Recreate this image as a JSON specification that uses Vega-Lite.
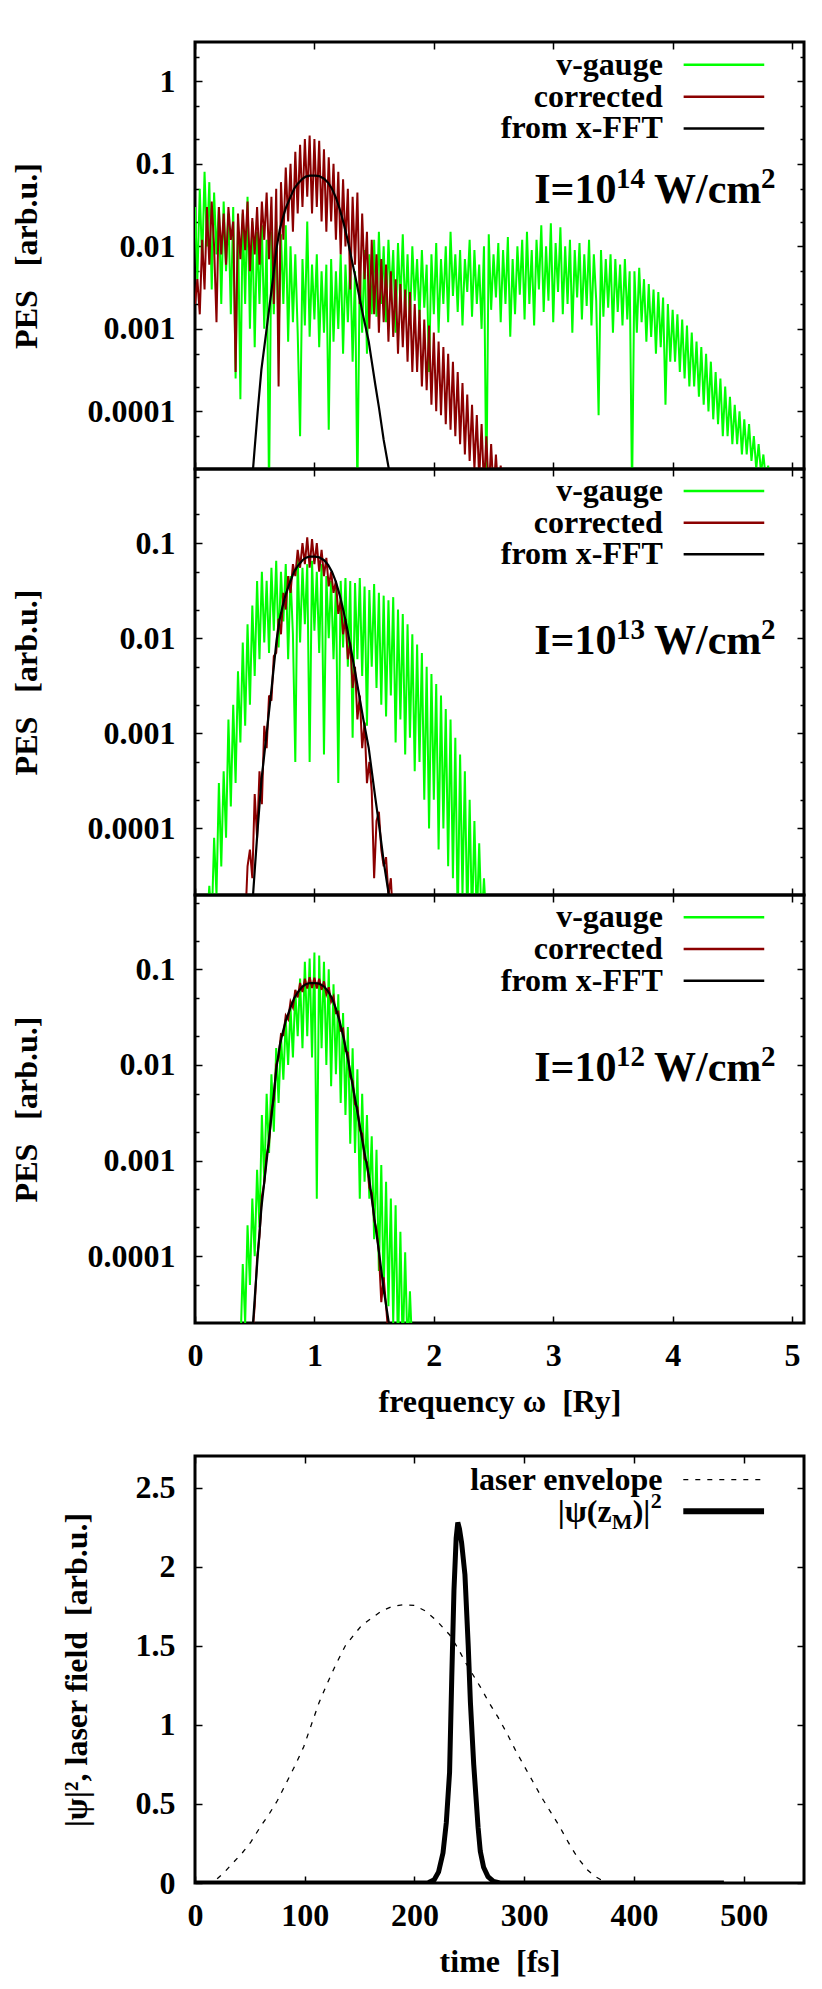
{
"$schema":"https://vega.github.io/schema/vega-lite/v6.json",
"background":"white",
"padding":{"left":8,"top":39,"right":10,"bottom":5},
"config":{
 "view":{"stroke":"black","strokeWidth":3},
 "axis":{"domain":false,"grid":false,"tickColor":"black","tickWidth":1.5,"labelFont":"Liberation Serif","labelFontWeight":"bold","labelFontSize":32,"labelColor":"black","labelFlush":false,"labelOverlap":false,"titleFont":"Liberation Serif","titleFontWeight":"bold","titleFontSize":32,"titleColor":"black"},
 "text":{"font":"Liberation Serif","fontWeight":"bold","fontSize":32,"color":"black"}
},
"datasets":{
"g1":[{"x":0,"y":0.03},{"x":0.02,"y":0.004},{"x":0.04,"y":0.05},{"x":0.06,"y":0.006},{"x":0.08,"y":0.08},{"x":0.1,"y":0.01},{"x":0.12,"y":0.06},{"x":0.14,"y":0.003},{"x":0.16,"y":0.045},{"x":0.18,"y":0.008},{"x":0.2,"y":0.03},{"x":0.22,"y":0.002},{"x":0.24,"y":0.035},{"x":0.26,"y":0.005},{"x":0.28,"y":0.025},{"x":0.3,"y":0.0015},{"x":0.32,"y":0.03},{"x":0.34,"y":0.00025},{"x":0.36,"y":0.02},{"x":0.38,"y":0.00014},{"x":0.4,"y":0.025},{"x":0.42,"y":0.002},{"x":0.44,"y":0.04},{"x":0.46,"y":0.001},{"x":0.48,"y":0.02},{"x":0.5,"y":0.0006},{"x":0.52,"y":0.015},{"x":0.54,"y":0.002},{"x":0.56,"y":0.018},{"x":0.58,"y":0.001},{"x":0.6,"y":0.012},{"x":0.62,"y":1e-5},{"x":0.64,"y":0.015},{"x":0.66,"y":0.0015},{"x":0.68,"y":0.02},{"x":0.7,"y":0.0008},{"x":0.72,"y":0.014},{"x":0.74,"y":0.002},{"x":0.76,"y":0.018},{"x":0.78,"y":0.0007},{"x":0.8,"y":0.01},{"x":0.82,"y":0.0012},{"x":0.84,"y":0.008},{"x":0.86,"y":0.0009},{"x":0.88,"y":5e-5},{"x":0.9,"y":0.007},{"x":0.92,"y":0.0011},{"x":0.94,"y":0.02},{"x":0.96,"y":0.0008},{"x":0.98,"y":0.006},{"x":1,"y":0.0013},{"x":1.02,"y":0.008},{"x":1.04,"y":0.0006},{"x":1.06,"y":0.005},{"x":1.08,"y":0.0009},{"x":1.1,"y":0.006},{"x":1.12,"y":6e-5},{"x":1.14,"y":0.007},{"x":1.16,"y":0.0007},{"x":1.18,"y":0.005},{"x":1.2,"y":0.001},{"x":1.22,"y":0.008},{"x":1.24,"y":0.0005},{"x":1.26,"y":0.006},{"x":1.28,"y":0.0012},{"x":1.3,"y":0.007},{"x":1.32,"y":0.0004},{"x":1.34,"y":0.005},{"x":1.36,"y":1e-5},{"x":1.38,"y":0.006},{"x":1.4,"y":0.0009},{"x":1.42,"y":0.009},{"x":1.44,"y":0.0005},{"x":1.46,"y":0.008},{"x":1.48,"y":0.0015},{"x":1.5,"y":0.012},{"x":1.52,"y":0.0014},{"x":1.54,"y":0.015},{"x":1.56,"y":0.002},{"x":1.58,"y":0.01},{"x":1.6,"y":0.0012},{"x":1.62,"y":0.012},{"x":1.64,"y":0.0025},{"x":1.66,"y":0.009},{"x":1.68,"y":0.0009},{"x":1.7,"y":0.011},{"x":1.72,"y":0.002},{"x":1.74,"y":0.014},{"x":1.76,"y":0.0015},{"x":1.78,"y":0.008},{"x":1.8,"y":0.0011},{"x":1.82,"y":0.01},{"x":1.84,"y":0.0022},{"x":1.86,"y":0.007},{"x":1.88,"y":0.0013},{"x":1.9,"y":0.009},{"x":1.92,"y":0.0018},{"x":1.94,"y":0.006},{"x":1.96,"y":0.0003},{"x":1.98,"y":0.008},{"x":2,"y":0.0015},{"x":2.02,"y":0.011},{"x":2.04,"y":0.0009},{"x":2.06,"y":0.007},{"x":2.08,"y":0.002},{"x":2.1,"y":0.01},{"x":2.12,"y":0.0012},{"x":2.14,"y":0.015},{"x":2.16,"y":0.0025},{"x":2.18,"y":0.008},{"x":2.2,"y":0.0016},{"x":2.22,"y":0.009},{"x":2.24,"y":0.0011},{"x":2.26,"y":0.007},{"x":2.28,"y":0.0028},{"x":2.3,"y":0.012},{"x":2.32,"y":0.0014},{"x":2.34,"y":0.009},{"x":2.36,"y":0.002},{"x":2.38,"y":0.006},{"x":2.4,"y":0.001},{"x":2.42,"y":0.01},{"x":2.44,"y":1e-5},{"x":2.46,"y":0.014},{"x":2.48,"y":0.0017},{"x":2.5,"y":0.008},{"x":2.52,"y":0.0024},{"x":2.54,"y":0.011},{"x":2.56,"y":0.0012},{"x":2.58,"y":0.009},{"x":2.6,"y":0.002},{"x":2.62,"y":0.013},{"x":2.64,"y":0.0008},{"x":2.66,"y":0.007},{"x":2.68,"y":0.0015},{"x":2.7,"y":0.01},{"x":2.72,"y":0.0026},{"x":2.74,"y":0.012},{"x":2.76,"y":0.0013},{"x":2.78,"y":0.015},{"x":2.8,"y":0.002},{"x":2.82,"y":0.009},{"x":2.84,"y":0.0011},{"x":2.86,"y":0.012},{"x":2.88,"y":0.003},{"x":2.9,"y":0.018},{"x":2.92,"y":0.0016},{"x":2.94,"y":0.01},{"x":2.96,"y":0.0022},{"x":2.98,"y":0.019},{"x":3,"y":0.0012},{"x":3.02,"y":0.011},{"x":3.04,"y":0.0028},{"x":3.06,"y":0.017},{"x":3.08,"y":0.0015},{"x":3.1,"y":0.01},{"x":3.12,"y":0.002},{"x":3.14,"y":0.012},{"x":3.16,"y":0.0009},{"x":3.18,"y":0.009},{"x":3.2,"y":0.0024},{"x":3.22,"y":0.011},{"x":3.24,"y":0.0013},{"x":3.26,"y":0.008},{"x":3.28,"y":0.0019},{"x":3.3,"y":0.012},{"x":3.32,"y":0.0011},{"x":3.34,"y":0.008},{"x":3.36,"y":0.0022},{"x":3.38,"y":9e-5},{"x":3.4,"y":0.009},{"x":3.42,"y":0.0014},{"x":3.44,"y":0.007},{"x":3.46,"y":0.0018},{"x":3.48,"y":0.008},{"x":3.5,"y":0.0009},{"x":3.52,"y":0.007},{"x":3.54,"y":0.0016},{"x":3.56,"y":0.006},{"x":3.58,"y":0.0011},{"x":3.6,"y":0.007},{"x":3.62,"y":0.0013},{"x":3.64,"y":0.005},{"x":3.66,"y":1e-5},{"x":3.68,"y":0.005},{"x":3.7,"y":0.0009},{"x":3.72,"y":0.0055},{"x":3.74,"y":0.0012},{"x":3.76,"y":0.004},{"x":3.78,"y":0.0007},{"x":3.8,"y":0.0035},{"x":3.82,"y":0.0008},{"x":3.84,"y":0.003},{"x":3.86,"y":0.0005},{"x":3.88,"y":0.0028},{"x":3.9,"y":0.0006},{"x":3.92,"y":0.0024},{"x":3.94,"y":0.00012},{"x":3.96,"y":0.002},{"x":3.98,"y":0.0004},{"x":4,"y":0.0017},{"x":4.02,"y":0.0004},{"x":4.04,"y":0.0015},{"x":4.06,"y":0.0003},{"x":4.08,"y":0.0013},{"x":4.1,"y":0.00025},{"x":4.12,"y":0.0011},{"x":4.14,"y":0.0002},{"x":4.16,"y":0.0009},{"x":4.18,"y":0.0002},{"x":4.2,"y":0.0007},{"x":4.22,"y":0.00015},{"x":4.24,"y":0.0006},{"x":4.26,"y":0.00012},{"x":4.28,"y":0.0005},{"x":4.3,"y":0.0001},{"x":4.32,"y":0.0004},{"x":4.34,"y":8e-5},{"x":4.36,"y":0.0003},{"x":4.38,"y":7e-5},{"x":4.4,"y":0.00025},{"x":4.42,"y":5e-5},{"x":4.44,"y":0.0002},{"x":4.46,"y":5e-5},{"x":4.48,"y":0.00015},{"x":4.5,"y":4e-5},{"x":4.52,"y":0.00012},{"x":4.54,"y":4e-5},{"x":4.56,"y":0.0001},{"x":4.58,"y":3e-5},{"x":4.6,"y":8e-5},{"x":4.62,"y":3e-5},{"x":4.64,"y":7e-5},{"x":4.66,"y":2.5e-5},{"x":4.68,"y":5e-5},{"x":4.7,"y":2e-5},{"x":4.72,"y":4e-5},{"x":4.74,"y":1.8e-5},{"x":4.76,"y":3e-5},{"x":4.78,"y":1.5e-5},{"x":4.8,"y":2.2e-5},{"x":4.82,"y":1e-5}],
"r1":[{"x":0,"y":0.002},{"x":0.02,"y":0.004},{"x":0.04,"y":0.0015},{"x":0.06,"y":0.012},{"x":0.08,"y":0.003},{"x":0.1,"y":0.03},{"x":0.12,"y":0.006},{"x":0.14,"y":0.035},{"x":0.16,"y":0.01},{"x":0.18,"y":0.0012},{"x":0.2,"y":0.03},{"x":0.22,"y":0.008},{"x":0.24,"y":0.025},{"x":0.26,"y":0.006},{"x":0.28,"y":0.03},{"x":0.3,"y":0.012},{"x":0.32,"y":0.02},{"x":0.34,"y":0.0003},{"x":0.36,"y":0.025},{"x":0.38,"y":0.007},{"x":0.4,"y":0.028},{"x":0.42,"y":0.009},{"x":0.44,"y":0.035},{"x":0.46,"y":0.005},{"x":0.48,"y":0.022},{"x":0.5,"y":0.008},{"x":0.52,"y":0.03},{"x":0.54,"y":0.006},{"x":0.56,"y":0.035},{"x":0.58,"y":0.012},{"x":0.6,"y":0.045},{"x":0.62,"y":0.007},{"x":0.64,"y":0.04},{"x":0.66,"y":0.002},{"x":0.68,"y":0.05},{"x":0.7,"y":0.0002},{"x":0.72,"y":0.06},{"x":0.74,"y":0.012},{"x":0.76,"y":0.09},{"x":0.78,"y":0.02},{"x":0.8,"y":0.1},{"x":0.82,"y":0.015},{"x":0.84,"y":0.14},{"x":0.86,"y":0.025},{"x":0.88,"y":0.17},{"x":0.9,"y":0.03},{"x":0.92,"y":0.2},{"x":0.94,"y":0.04},{"x":0.96,"y":0.22},{"x":0.98,"y":0.025},{"x":1,"y":0.2},{"x":1.02,"y":0.03},{"x":1.04,"y":0.19},{"x":1.06,"y":0.02},{"x":1.08,"y":0.15},{"x":1.1,"y":0.015},{"x":1.12,"y":0.12},{"x":1.14,"y":0.02},{"x":1.16,"y":0.1},{"x":1.18,"y":0.012},{"x":1.2,"y":0.08},{"x":1.22,"y":0.008},{"x":1.24,"y":0.065},{"x":1.26,"y":0.01},{"x":1.28,"y":0.05},{"x":1.3,"y":0.003},{"x":1.32,"y":0.04},{"x":1.34,"y":0.006},{"x":1.36,"y":0.045},{"x":1.38,"y":0.002},{"x":1.4,"y":0.025},{"x":1.42,"y":0.004},{"x":1.44,"y":0.015},{"x":1.46,"y":0.001},{"x":1.48,"y":0.012},{"x":1.5,"y":0.0015},{"x":1.52,"y":0.008},{"x":1.54,"y":0.0009},{"x":1.56,"y":0.007},{"x":1.58,"y":0.0012},{"x":1.6,"y":0.006},{"x":1.62,"y":0.0007},{"x":1.64,"y":0.005},{"x":1.66,"y":0.0008},{"x":1.68,"y":0.004},{"x":1.7,"y":0.0005},{"x":1.72,"y":0.0035},{"x":1.74,"y":0.0006},{"x":1.76,"y":0.003},{"x":1.78,"y":0.0004},{"x":1.8,"y":0.0028},{"x":1.82,"y":0.0003},{"x":1.84,"y":0.002},{"x":1.86,"y":0.0003},{"x":1.88,"y":0.0017},{"x":1.9,"y":0.0002},{"x":1.92,"y":0.0013},{"x":1.94,"y":0.00018},{"x":1.96,"y":0.0011},{"x":1.98,"y":0.00012},{"x":2,"y":0.0009},{"x":2.02,"y":0.0001},{"x":2.04,"y":0.0007},{"x":2.06,"y":9e-5},{"x":2.08,"y":0.0006},{"x":2.1,"y":7e-5},{"x":2.12,"y":0.0005},{"x":2.14,"y":6e-5},{"x":2.16,"y":0.0004},{"x":2.18,"y":5e-5},{"x":2.2,"y":0.0003},{"x":2.22,"y":4e-5},{"x":2.24,"y":0.00022},{"x":2.26,"y":3e-5},{"x":2.28,"y":0.00016},{"x":2.3,"y":2.5e-5},{"x":2.32,"y":0.00012},{"x":2.34,"y":2e-5},{"x":2.36,"y":9e-5},{"x":2.38,"y":1.5e-5},{"x":2.4,"y":7e-5},{"x":2.42,"y":1.2e-5},{"x":2.44,"y":5e-5},{"x":2.46,"y":1e-5},{"x":2.48,"y":4e-5},{"x":2.5,"y":1e-5},{"x":2.52,"y":3e-5},{"x":2.54,"y":1e-5},{"x":2.56,"y":2.2e-5},{"x":2.58,"y":1e-5}],
"g2":[{"x":0.1,"y":1e-5},{"x":0.12,"y":2.5e-5},{"x":0.14,"y":1e-5},{"x":0.16,"y":8e-5},{"x":0.18,"y":2e-5},{"x":0.2,"y":0.0003},{"x":0.22,"y":4e-5},{"x":0.24,"y":0.0004},{"x":0.26,"y":8e-5},{"x":0.28,"y":0.0014},{"x":0.3,"y":0.00017},{"x":0.32,"y":0.002},{"x":0.34,"y":0.0003},{"x":0.36,"y":0.0045},{"x":0.38,"y":0.0008},{"x":0.4,"y":0.009},{"x":0.42,"y":0.0012},{"x":0.44,"y":0.014},{"x":0.46,"y":0.002},{"x":0.48,"y":0.022},{"x":0.5,"y":0.004},{"x":0.52,"y":0.04},{"x":0.54,"y":0.006},{"x":0.56,"y":0.05},{"x":0.58,"y":0.009},{"x":0.6,"y":0.04},{"x":0.62,"y":0.007},{"x":0.64,"y":0.055},{"x":0.66,"y":0.012},{"x":0.68,"y":0.065},{"x":0.7,"y":0.008},{"x":0.72,"y":0.05},{"x":0.74,"y":0.015},{"x":0.76,"y":0.06},{"x":0.78,"y":0.006},{"x":0.8,"y":0.045},{"x":0.82,"y":0.011},{"x":0.84,"y":0.0005},{"x":0.86,"y":0.07},{"x":0.88,"y":0.009},{"x":0.9,"y":0.055},{"x":0.92,"y":0.014},{"x":0.94,"y":0.06},{"x":0.96,"y":0.0005},{"x":0.98,"y":0.065},{"x":1,"y":0.012},{"x":1.02,"y":0.05},{"x":1.04,"y":0.007},{"x":1.06,"y":0.06},{"x":1.08,"y":0.0006},{"x":1.1,"y":0.045},{"x":1.12,"y":0.01},{"x":1.14,"y":0.04},{"x":1.16,"y":0.006},{"x":1.18,"y":0.035},{"x":1.2,"y":0.0003},{"x":1.22,"y":0.04},{"x":1.24,"y":0.008},{"x":1.26,"y":0.043},{"x":1.28,"y":0.005},{"x":1.3,"y":0.04},{"x":1.32,"y":0.0009},{"x":1.34,"y":0.038},{"x":1.36,"y":0.006},{"x":1.38,"y":0.043},{"x":1.4,"y":0.004},{"x":1.42,"y":0.035},{"x":1.44,"y":0.0012},{"x":1.46,"y":0.032},{"x":1.48,"y":0.005},{"x":1.5,"y":0.037},{"x":1.52,"y":0.003},{"x":1.54,"y":0.03},{"x":1.56,"y":0.002},{"x":1.58,"y":0.028},{"x":1.6,"y":0.0015},{"x":1.62,"y":0.025},{"x":1.64,"y":0.0025},{"x":1.66,"y":0.027},{"x":1.68,"y":0.0008},{"x":1.7,"y":0.02},{"x":1.72,"y":0.0014},{"x":1.74,"y":0.018},{"x":1.76,"y":0.0006},{"x":1.78,"y":0.014},{"x":1.8,"y":0.0009},{"x":1.82,"y":0.011},{"x":1.84,"y":0.0004},{"x":1.86,"y":0.0086},{"x":1.88,"y":0.0005},{"x":1.9,"y":0.007},{"x":1.92,"y":0.0002},{"x":1.94,"y":0.005},{"x":1.96,"y":0.0001},{"x":1.98,"y":0.0042},{"x":2,"y":0.0002},{"x":2.02,"y":0.0033},{"x":2.04,"y":6e-5},{"x":2.06,"y":0.0025},{"x":2.08,"y":0.0001},{"x":2.1,"y":0.0018},{"x":2.12,"y":4e-5},{"x":2.14,"y":0.0014},{"x":2.16,"y":3e-5},{"x":2.18,"y":0.0009},{"x":2.2,"y":1e-5},{"x":2.22,"y":0.0006},{"x":2.24,"y":2e-5},{"x":2.26,"y":0.0004},{"x":2.28,"y":1e-5},{"x":2.3,"y":0.0002},{"x":2.32,"y":1e-5},{"x":2.34,"y":0.00012},{"x":2.36,"y":1e-5},{"x":2.38,"y":7e-5},{"x":2.4,"y":1e-5},{"x":2.42,"y":3e-5},{"x":2.44,"y":1e-5}],
"r2":[{"x":0.42,"y":1e-5},{"x":0.44,"y":4e-5},{"x":0.46,"y":6e-5},{"x":0.48,"y":3e-5},{"x":0.5,"y":0.00023},{"x":0.52,"y":8e-5},{"x":0.54,"y":0.0004},{"x":0.56,"y":0.00018},{"x":0.58,"y":0.0012},{"x":0.6,"y":0.0007},{"x":0.62,"y":0.0025},{"x":0.64,"y":0.0022},{"x":0.66,"y":0.0065},{"x":0.68,"y":0.007},{"x":0.7,"y":0.016},{"x":0.72,"y":0.011},{"x":0.74,"y":0.03},{"x":0.76,"y":0.02},{"x":0.78,"y":0.045},{"x":0.8,"y":0.03},{"x":0.82,"y":0.06},{"x":0.84,"y":0.045},{"x":0.86,"y":0.085},{"x":0.88,"y":0.055},{"x":0.9,"y":0.1},{"x":0.92,"y":0.06},{"x":0.94,"y":0.115},{"x":0.96,"y":0.055},{"x":0.98,"y":0.11},{"x":1,"y":0.06},{"x":1.02,"y":0.1},{"x":1.04,"y":0.05},{"x":1.06,"y":0.085},{"x":1.08,"y":0.045},{"x":1.1,"y":0.07},{"x":1.12,"y":0.035},{"x":1.14,"y":0.05},{"x":1.16,"y":0.03},{"x":1.18,"y":0.04},{"x":1.2,"y":0.018},{"x":1.22,"y":0.025},{"x":1.24,"y":0.011},{"x":1.26,"y":0.016},{"x":1.28,"y":0.006},{"x":1.3,"y":0.009},{"x":1.32,"y":0.003},{"x":1.34,"y":0.005},{"x":1.36,"y":0.0014},{"x":1.38,"y":0.0025},{"x":1.4,"y":0.0007},{"x":1.42,"y":0.0013},{"x":1.44,"y":0.0003},{"x":1.46,"y":0.0005},{"x":1.48,"y":0.00025},{"x":1.5,"y":3e-5},{"x":1.52,"y":0.00012},{"x":1.54,"y":0.00015},{"x":1.56,"y":6e-5},{"x":1.58,"y":4e-5},{"x":1.6,"y":5e-5},{"x":1.62,"y":2e-5},{"x":1.64,"y":3e-5},{"x":1.66,"y":1e-5}],
"g3":[{"x":0.38,"y":1e-5},{"x":0.4,"y":8.3e-5},{"x":0.42,"y":2e-5},{"x":0.44,"y":0.00021},{"x":0.46,"y":5e-5},{"x":0.48,"y":0.0004},{"x":0.5,"y":0.0001},{"x":0.52,"y":0.0008},{"x":0.54,"y":0.0002},{"x":0.56,"y":0.003},{"x":0.58,"y":0.0006},{"x":0.6,"y":0.005},{"x":0.62,"y":0.0012},{"x":0.64,"y":0.008},{"x":0.66,"y":0.002},{"x":0.68,"y":0.015},{"x":0.7,"y":0.004},{"x":0.72,"y":0.02},{"x":0.74,"y":0.007},{"x":0.76,"y":0.03},{"x":0.78,"y":0.01},{"x":0.8,"y":0.04},{"x":0.82,"y":0.012},{"x":0.84,"y":0.06},{"x":0.86,"y":0.02},{"x":0.88,"y":0.08},{"x":0.9,"y":0.015},{"x":0.92,"y":0.12},{"x":0.94,"y":0.02},{"x":0.96,"y":0.13},{"x":0.98,"y":0.012},{"x":1,"y":0.15},{"x":1.02,"y":0.0004},{"x":1.04,"y":0.14},{"x":1.06,"y":0.015},{"x":1.08,"y":0.12},{"x":1.1,"y":0.01},{"x":1.12,"y":0.1},{"x":1.14,"y":0.006},{"x":1.16,"y":0.07},{"x":1.18,"y":0.008},{"x":1.2,"y":0.055},{"x":1.22,"y":0.004},{"x":1.24,"y":0.035},{"x":1.26,"y":0.003},{"x":1.28,"y":0.025},{"x":1.3,"y":0.0015},{"x":1.32,"y":0.015},{"x":1.34,"y":0.0012},{"x":1.36,"y":0.009},{"x":1.38,"y":0.0004},{"x":1.4,"y":0.005},{"x":1.42,"y":0.0006},{"x":1.44,"y":0.003},{"x":1.46,"y":0.0004},{"x":1.48,"y":0.0018},{"x":1.5,"y":0.00015},{"x":1.52,"y":0.0013},{"x":1.54,"y":7e-5},{"x":1.56,"y":0.0009},{"x":1.58,"y":4e-5},{"x":1.6,"y":0.0006},{"x":1.62,"y":3e-5},{"x":1.64,"y":0.0004},{"x":1.66,"y":2e-5},{"x":1.68,"y":0.00034},{"x":1.7,"y":1e-5},{"x":1.72,"y":0.00018},{"x":1.74,"y":1e-5},{"x":1.76,"y":0.00011},{"x":1.78,"y":1e-5},{"x":1.8,"y":4.3e-5},{"x":1.82,"y":1e-5}],
"r3":[{"x":0.46,"y":1e-5},{"x":0.48,"y":1.5e-5},{"x":0.5,"y":3e-5},{"x":0.52,"y":9.5e-5},{"x":0.54,"y":0.00016},{"x":0.56,"y":0.00042},{"x":0.58,"y":0.00058},{"x":0.6,"y":0.00115},{"x":0.62,"y":0.0015},{"x":0.64,"y":0.0033},{"x":0.66,"y":0.0044},{"x":0.68,"y":0.0101},{"x":0.7,"y":0.0119},{"x":0.72,"y":0.021},{"x":0.74,"y":0.0205},{"x":0.76,"y":0.033},{"x":0.78,"y":0.03},{"x":0.8,"y":0.046},{"x":0.82,"y":0.04},{"x":0.84,"y":0.061},{"x":0.86,"y":0.051},{"x":0.88,"y":0.072},{"x":0.9,"y":0.058},{"x":0.92,"y":0.08},{"x":0.94,"y":0.063},{"x":0.96,"y":0.083},{"x":0.98,"y":0.064},{"x":1,"y":0.082},{"x":1.02,"y":0.063},{"x":1.04,"y":0.08},{"x":1.06,"y":0.061},{"x":1.08,"y":0.075},{"x":1.1,"y":0.055},{"x":1.12,"y":0.065},{"x":1.14,"y":0.046},{"x":1.16,"y":0.052},{"x":1.18,"y":0.035},{"x":1.2,"y":0.036},{"x":1.22,"y":0.023},{"x":1.24,"y":0.024},{"x":1.26,"y":0.014},{"x":1.28,"y":0.0135},{"x":1.3,"y":0.0075},{"x":1.32,"y":0.0068},{"x":1.34,"y":0.0039},{"x":1.36,"y":0.0036},{"x":1.38,"y":0.0021},{"x":1.4,"y":0.0019},{"x":1.42,"y":0.00105},{"x":1.44,"y":0.00096},{"x":1.46,"y":0.00052},{"x":1.48,"y":0.00046},{"x":1.5,"y":0.00024},{"x":1.52,"y":0.00019},{"x":1.54,"y":0.00011},{"x":1.56,"y":3.3e-5},{"x":1.58,"y":6e-5},{"x":1.6,"y":3e-5},{"x":1.62,"y":1.5e-5},{"x":1.64,"y":1e-5}],
"bk":[{"x":0.47,"y":8e-6},{"x":0.486,"y":2e-5},{"x":0.5,"y":3.6e-5},{"x":0.525,"y":0.0001},{"x":0.556,"y":0.00032},{"x":0.6,"y":0.001},{"x":0.644,"y":0.0032},{"x":0.683,"y":0.0095},{"x":0.71,"y":0.016},{"x":0.731,"y":0.021},{"x":0.76,"y":0.029},{"x":0.797,"y":0.039},{"x":0.83,"y":0.05},{"x":0.863,"y":0.058},{"x":0.9,"y":0.066},{"x":0.928,"y":0.07},{"x":0.96,"y":0.072},{"x":1.003,"y":0.072},{"x":1.04,"y":0.071},{"x":1.081,"y":0.066},{"x":1.115,"y":0.059},{"x":1.147,"y":0.05},{"x":1.18,"y":0.039},{"x":1.213,"y":0.028},{"x":1.245,"y":0.019},{"x":1.278,"y":0.012},{"x":1.31,"y":0.0072},{"x":1.344,"y":0.0042},{"x":1.38,"y":0.0023},{"x":1.41,"y":0.0014},{"x":1.432,"y":0.001},{"x":1.455,"y":0.0007},{"x":1.475,"y":0.00045},{"x":1.51,"y":0.00021},{"x":1.541,"y":0.00011},{"x":1.58,"y":4.5e-5},{"x":1.629,"y":1.8e-5},{"x":1.65,"y":1e-5}],
"env":[{"x":10,"y":0},{"x":15,"y":0.01},{"x":20,"y":0.025},{"x":27,"y":0.07},{"x":35,"y":0.13},{"x":43,"y":0.19},{"x":51,"y":0.26},{"x":60,"y":0.36},{"x":67,"y":0.43},{"x":75,"y":0.52},{"x":83,"y":0.63},{"x":91,"y":0.74},{"x":99,"y":0.86},{"x":106,"y":1.0},{"x":113,"y":1.14},{"x":121,"y":1.27},{"x":129,"y":1.39},{"x":137,"y":1.5},{"x":145,"y":1.57},{"x":152,"y":1.63},{"x":160,"y":1.67},{"x":170,"y":1.72},{"x":180,"y":1.75},{"x":190,"y":1.76},{"x":200,"y":1.755},{"x":210,"y":1.72},{"x":220,"y":1.66},{"x":232,"y":1.57},{"x":240,"y":1.48},{"x":246,"y":1.4},{"x":253,"y":1.32},{"x":260,"y":1.24},{"x":268,"y":1.14},{"x":276,"y":1.05},{"x":284,"y":0.95},{"x":292,"y":0.84},{"x":300,"y":0.74},{"x":308,"y":0.64},{"x":316,"y":0.54},{"x":324,"y":0.45},{"x":332,"y":0.36},{"x":340,"y":0.26},{"x":346,"y":0.19},{"x":351,"y":0.14},{"x":358,"y":0.08},{"x":365,"y":0.04},{"x":370,"y":0.02}],
"psi":[{"x":0,"y":0},{"x":100,"y":0},{"x":200,"y":0},{"x":212,"y":0},{"x":218,"y":0.02},{"x":222,"y":0.07},{"x":226,"y":0.19},{"x":229,"y":0.38},{"x":232,"y":0.7},{"x":234,"y":1.3},{"x":236,"y":1.85},{"x":238,"y":2.18},{"x":239.5,"y":2.28},{"x":241,"y":2.24},{"x":243,"y":2.15},{"x":246,"y":1.95},{"x":249,"y":1.5},{"x":251,"y":1.14},{"x":254,"y":0.75},{"x":256,"y":0.55},{"x":258,"y":0.35},{"x":260,"y":0.2},{"x":263,"y":0.1},{"x":267,"y":0.04},{"x":272,"y":0.01},{"x":278,"y":0},{"x":300,"y":0},{"x":400,"y":0},{"x":482,"y":0}]
},
"vconcat":[
{"width":609,"height":427,
 "resolve":{"axis":{"x":"independent","y":"independent"}},
 "layer":[
  {"data":{"name":"g1"},"mark":{"type":"line","color":"#00ff00","strokeWidth":2,"clip":true},
   "encoding":{"x":{"field":"x","type":"quantitative","scale":{"domain":[0,5.1],"nice":false,"zero":false},"axis":{"orient":"bottom","values":[0,1,2,3,4,5],"labels":false,"title":null,"tickSize":-7}},
    "y":{"field":"y","type":"quantitative","scale":{"type":"log","domain":[2e-5,3],"nice":false},"axis":{"orient":"left","values":[1,0.1,0.01,0.001,0.0001],"format":"~g","tickSize":-7,"labelPadding":27,"title":"PES\u00a0\u00a0 [arb.u.]","titlePadding":44}}}},
  {"data":{"name":"r1"},"mark":{"type":"line","color":"#8b0000","strokeWidth":2,"clip":true},
   "encoding":{"x":{"field":"x","type":"quantitative","scale":{"domain":[0,5.1],"nice":false,"zero":false},"axis":{"orient":"top","values":[0,1,2,3,4,5],"labels":false,"title":null,"tickSize":-7}},
    "y":{"field":"y","type":"quantitative","scale":{"type":"log","domain":[2e-5,3],"nice":false},"axis":{"orient":"right","values":[1,0.1,0.01,0.001,0.0001],"labels":false,"title":null,"tickSize":-7}}}},
  {"data":{"name":"bk"},"mark":{"type":"line","color":"black","strokeWidth":2.2,"clip":true},
   "encoding":{"x":{"field":"x","type":"quantitative","scale":{"domain":[0,5.1],"nice":false,"zero":false},"axis":null},
    "y":{"field":"y","type":"quantitative","scale":{"type":"log","domain":[2e-5,3],"nice":false},"axis":{"orient":"left","values":[2,0.5,0.2,0.05,0.02,0.005,0.002,0.0005,0.0002,0.00005],"labels":false,"title":null,"tickSize":-4}}}},
  {"data":{"values":[{"s":"v-gauge"}]},"mark":{"type":"rule","color":"#00ff00","strokeWidth":2.5},
   "encoding":{"x":{"datum":4.092,"type":"quantitative","scale":{"domain":[0,5.1],"nice":false,"zero":false},"axis":null},"x2":{"datum":4.767},
    "y":{"datum":1.595,"type":"quantitative","scale":{"type":"log","domain":[2e-5,3],"nice":false},"axis":{"orient":"right","values":[2,0.5,0.2,0.05,0.02,0.005,0.002,0.0005,0.0002,0.00005],"labels":false,"title":null,"tickSize":-4}}}},
  {"data":{"values":[{"s":"corrected"}]},"mark":{"type":"rule","color":"#8b0000","strokeWidth":2.5},
   "encoding":{"x":{"datum":4.092,"type":"quantitative","scale":{"domain":[0,5.1],"nice":false,"zero":false},"axis":null},"x2":{"datum":4.767},
    "y":{"datum":0.6524,"type":"quantitative","scale":{"type":"log","domain":[2e-5,3],"nice":false},"axis":null}}},
  {"data":{"values":[{"s":"from x-FFT"}]},"mark":{"type":"rule","color":"black","strokeWidth":2.5},
   "encoding":{"x":{"datum":4.092,"type":"quantitative","scale":{"domain":[0,5.1],"nice":false,"zero":false},"axis":null},"x2":{"datum":4.767},
    "y":{"datum":0.269,"type":"quantitative","scale":{"type":"log","domain":[2e-5,3],"nice":false},"axis":null}}},
  {"data":{"values":[{"s":"v-gauge"}]},"mark":{"type":"text","align":"right","baseline":"middle"},
   "encoding":{"text":{"field":"s"},"x":{"datum":3.918,"type":"quantitative","scale":{"domain":[0,5.1],"nice":false,"zero":false},"axis":null},
    "y":{"datum":1.595,"type":"quantitative","scale":{"type":"log","domain":[2e-5,3],"nice":false},"axis":null}}},
  {"data":{"values":[{"s":"corrected"}]},"mark":{"type":"text","align":"right","baseline":"middle"},
   "encoding":{"text":{"field":"s"},"x":{"datum":3.918,"type":"quantitative","scale":{"domain":[0,5.1],"nice":false,"zero":false},"axis":null},
    "y":{"datum":0.6524,"type":"quantitative","scale":{"type":"log","domain":[2e-5,3],"nice":false},"axis":null}}},
  {"data":{"values":[{"s":"from x-FFT"}]},"mark":{"type":"text","align":"right","baseline":"middle"},
   "encoding":{"text":{"field":"s"},"x":{"datum":3.918,"type":"quantitative","scale":{"domain":[0,5.1],"nice":false,"zero":false},"axis":null},
    "y":{"datum":0.269,"type":"quantitative","scale":{"type":"log","domain":[2e-5,3],"nice":false},"axis":null}}},
  {"data":{"values":[{"s":"I=10"}]},"mark":{"type":"text","align":"left","baseline":"alphabetic","fontSize":42},
   "encoding":{"text":{"field":"s"},"x":{"datum":2.84,"type":"quantitative","scale":{"domain":[0,5.1],"nice":false,"zero":false},"axis":null},
    "y":{"datum":0.0331,"type":"quantitative","scale":{"type":"log","domain":[2e-5,3],"nice":false},"axis":null}}},
  {"data":{"values":[{"s":"14"}]},"mark":{"type":"text","align":"left","baseline":"alphabetic","fontSize":29,"dy":-15},
   "encoding":{"text":{"field":"s"},"x":{"datum":3.526,"type":"quantitative","scale":{"domain":[0,5.1],"nice":false,"zero":false},"axis":null},
    "y":{"datum":0.0331,"type":"quantitative","scale":{"type":"log","domain":[2e-5,3],"nice":false},"axis":null}}},
  {"data":{"values":[{"s":"W/cm"}]},"mark":{"type":"text","align":"left","baseline":"alphabetic","fontSize":42},
   "encoding":{"text":{"field":"s"},"x":{"datum":3.844,"type":"quantitative","scale":{"domain":[0,5.1],"nice":false,"zero":false},"axis":null},
    "y":{"datum":0.0331,"type":"quantitative","scale":{"type":"log","domain":[2e-5,3],"nice":false},"axis":null}}},
  {"data":{"values":[{"s":"2"}]},"mark":{"type":"text","align":"left","baseline":"alphabetic","fontSize":29,"dy":-15},
   "encoding":{"text":{"field":"s"},"x":{"datum":4.74,"type":"quantitative","scale":{"domain":[0,5.1],"nice":false,"zero":false},"axis":null},
    "y":{"datum":0.0331,"type":"quantitative","scale":{"type":"log","domain":[2e-5,3],"nice":false},"axis":null}}}
 ]},
{"width":609,"height":426,
 "resolve":{"axis":{"x":"independent","y":"independent"}},
 "layer":[
  {"data":{"name":"g2"},"mark":{"type":"line","color":"#00ff00","strokeWidth":2,"clip":true},
   "encoding":{"x":{"field":"x","type":"quantitative","scale":{"domain":[0,5.1],"nice":false,"zero":false},"axis":{"orient":"bottom","values":[0,1,2,3,4,5],"labels":false,"title":null,"tickSize":-7}},
    "y":{"field":"y","type":"quantitative","scale":{"type":"log","domain":[2e-5,0.6],"nice":false},"axis":{"orient":"left","values":[0.1,0.01,0.001,0.0001],"format":"~g","tickSize":-7,"labelPadding":27,"title":"PES\u00a0\u00a0 [arb.u.]","titlePadding":44}}}},
  {"data":{"name":"r2"},"mark":{"type":"line","color":"#8b0000","strokeWidth":2,"clip":true},
   "encoding":{"x":{"field":"x","type":"quantitative","scale":{"domain":[0,5.1],"nice":false,"zero":false},"axis":{"orient":"top","values":[0,1,2,3,4,5],"labels":false,"title":null,"tickSize":-7}},
    "y":{"field":"y","type":"quantitative","scale":{"type":"log","domain":[2e-5,0.6],"nice":false},"axis":{"orient":"right","values":[0.1,0.01,0.001,0.0001],"labels":false,"title":null,"tickSize":-7}}}},
  {"data":{"name":"bk"},"mark":{"type":"line","color":"black","strokeWidth":2.2,"clip":true},
   "encoding":{"x":{"field":"x","type":"quantitative","scale":{"domain":[0,5.1],"nice":false,"zero":false},"axis":null},
    "y":{"field":"y","type":"quantitative","scale":{"type":"log","domain":[2e-5,0.6],"nice":false},"axis":{"orient":"left","values":[0.5,0.2,0.05,0.02,0.005,0.002,0.0005,0.0002,0.00005],"labels":false,"title":null,"tickSize":-4}}}},
  {"data":{"values":[{"s":"v-gauge"}]},"mark":{"type":"rule","color":"#00ff00","strokeWidth":2.5},
   "encoding":{"x":{"datum":4.092,"type":"quantitative","scale":{"domain":[0,5.1],"nice":false,"zero":false},"axis":null},"x2":{"datum":4.767},
    "y":{"datum":0.352,"type":"quantitative","scale":{"type":"log","domain":[2e-5,0.6],"nice":false},"axis":{"orient":"right","values":[0.5,0.2,0.05,0.02,0.005,0.002,0.0005,0.0002,0.00005],"labels":false,"title":null,"tickSize":-4}}}},
  {"data":{"values":[{"s":"corrected"}]},"mark":{"type":"rule","color":"#8b0000","strokeWidth":2.5},
   "encoding":{"x":{"datum":4.092,"type":"quantitative","scale":{"domain":[0,5.1],"nice":false,"zero":false},"axis":null},"x2":{"datum":4.767},
    "y":{"datum":0.1636,"type":"quantitative","scale":{"type":"log","domain":[2e-5,0.6],"nice":false},"axis":null}}},
  {"data":{"values":[{"s":"from x-FFT"}]},"mark":{"type":"rule","color":"black","strokeWidth":2.5},
   "encoding":{"x":{"datum":4.092,"type":"quantitative","scale":{"domain":[0,5.1],"nice":false,"zero":false},"axis":null},"x2":{"datum":4.767},
    "y":{"datum":0.0762,"type":"quantitative","scale":{"type":"log","domain":[2e-5,0.6],"nice":false},"axis":null}}},
  {"data":{"values":[{"s":"v-gauge"}]},"mark":{"type":"text","align":"right","baseline":"middle"},
   "encoding":{"text":{"field":"s"},"x":{"datum":3.918,"type":"quantitative","scale":{"domain":[0,5.1],"nice":false,"zero":false},"axis":null},
    "y":{"datum":0.352,"type":"quantitative","scale":{"type":"log","domain":[2e-5,0.6],"nice":false},"axis":null}}},
  {"data":{"values":[{"s":"corrected"}]},"mark":{"type":"text","align":"right","baseline":"middle"},
   "encoding":{"text":{"field":"s"},"x":{"datum":3.918,"type":"quantitative","scale":{"domain":[0,5.1],"nice":false,"zero":false},"axis":null},
    "y":{"datum":0.1636,"type":"quantitative","scale":{"type":"log","domain":[2e-5,0.6],"nice":false},"axis":null}}},
  {"data":{"values":[{"s":"from x-FFT"}]},"mark":{"type":"text","align":"right","baseline":"middle"},
   "encoding":{"text":{"field":"s"},"x":{"datum":3.918,"type":"quantitative","scale":{"domain":[0,5.1],"nice":false,"zero":false},"axis":null},
    "y":{"datum":0.0762,"type":"quantitative","scale":{"type":"log","domain":[2e-5,0.6],"nice":false},"axis":null}}},
  {"data":{"values":[{"s":"I=10"}]},"mark":{"type":"text","align":"left","baseline":"alphabetic","fontSize":42},
   "encoding":{"text":{"field":"s"},"x":{"datum":2.84,"type":"quantitative","scale":{"domain":[0,5.1],"nice":false,"zero":false},"axis":null},
    "y":{"datum":0.00682,"type":"quantitative","scale":{"type":"log","domain":[2e-5,0.6],"nice":false},"axis":null}}},
  {"data":{"values":[{"s":"13"}]},"mark":{"type":"text","align":"left","baseline":"alphabetic","fontSize":29,"dy":-15},
   "encoding":{"text":{"field":"s"},"x":{"datum":3.526,"type":"quantitative","scale":{"domain":[0,5.1],"nice":false,"zero":false},"axis":null},
    "y":{"datum":0.00682,"type":"quantitative","scale":{"type":"log","domain":[2e-5,0.6],"nice":false},"axis":null}}},
  {"data":{"values":[{"s":"W/cm"}]},"mark":{"type":"text","align":"left","baseline":"alphabetic","fontSize":42},
   "encoding":{"text":{"field":"s"},"x":{"datum":3.844,"type":"quantitative","scale":{"domain":[0,5.1],"nice":false,"zero":false},"axis":null},
    "y":{"datum":0.00682,"type":"quantitative","scale":{"type":"log","domain":[2e-5,0.6],"nice":false},"axis":null}}},
  {"data":{"values":[{"s":"2"}]},"mark":{"type":"text","align":"left","baseline":"alphabetic","fontSize":29,"dy":-15},
   "encoding":{"text":{"field":"s"},"x":{"datum":4.74,"type":"quantitative","scale":{"domain":[0,5.1],"nice":false,"zero":false},"axis":null},
    "y":{"datum":0.00682,"type":"quantitative","scale":{"type":"log","domain":[2e-5,0.6],"nice":false},"axis":null}}}
 ]},
{"width":609,"height":428,
 "resolve":{"axis":{"x":"independent","y":"independent"}},
 "layer":[
  {"data":{"name":"g3"},"mark":{"type":"line","color":"#00ff00","strokeWidth":2,"clip":true},
   "encoding":{"x":{"field":"x","type":"quantitative","scale":{"domain":[0,5.1],"nice":false,"zero":false},"axis":{"orient":"bottom","values":[0,1,2,3,4,5],"tickSize":-7,"labelPadding":24,"title":"frequency \u03c9\u00a0\u00a0[Ry]","titlePadding":15}},
    "y":{"field":"y","type":"quantitative","scale":{"type":"log","domain":[2e-5,0.6],"nice":false},"axis":{"orient":"left","values":[0.1,0.01,0.001,0.0001],"format":"~g","tickSize":-7,"labelPadding":27,"title":"PES\u00a0\u00a0 [arb.u.]","titlePadding":44}}}},
  {"data":{"name":"r3"},"mark":{"type":"line","color":"#8b0000","strokeWidth":2,"clip":true},
   "encoding":{"x":{"field":"x","type":"quantitative","scale":{"domain":[0,5.1],"nice":false,"zero":false},"axis":{"orient":"top","values":[0,1,2,3,4,5],"labels":false,"title":null,"tickSize":-7}},
    "y":{"field":"y","type":"quantitative","scale":{"type":"log","domain":[2e-5,0.6],"nice":false},"axis":{"orient":"right","values":[0.1,0.01,0.001,0.0001],"labels":false,"title":null,"tickSize":-7}}}},
  {"data":{"name":"bk"},"mark":{"type":"line","color":"black","strokeWidth":2.2,"clip":true},
   "encoding":{"x":{"field":"x","type":"quantitative","scale":{"domain":[0,5.1],"nice":false,"zero":false},"axis":null},
    "y":{"field":"y","type":"quantitative","scale":{"type":"log","domain":[2e-5,0.6],"nice":false},"axis":{"orient":"left","values":[0.5,0.2,0.05,0.02,0.005,0.002,0.0005,0.0002,0.00005],"labels":false,"title":null,"tickSize":-4}}}},
  {"data":{"values":[{"s":"v-gauge"}]},"mark":{"type":"rule","color":"#00ff00","strokeWidth":2.5},
   "encoding":{"x":{"datum":4.092,"type":"quantitative","scale":{"domain":[0,5.1],"nice":false,"zero":false},"axis":null},"x2":{"datum":4.767},
    "y":{"datum":0.352,"type":"quantitative","scale":{"type":"log","domain":[2e-5,0.6],"nice":false},"axis":{"orient":"right","values":[0.5,0.2,0.05,0.02,0.005,0.002,0.0005,0.0002,0.00005],"labels":false,"title":null,"tickSize":-4}}}},
  {"data":{"values":[{"s":"corrected"}]},"mark":{"type":"rule","color":"#8b0000","strokeWidth":2.5},
   "encoding":{"x":{"datum":4.092,"type":"quantitative","scale":{"domain":[0,5.1],"nice":false,"zero":false},"axis":null},"x2":{"datum":4.767},
    "y":{"datum":0.1636,"type":"quantitative","scale":{"type":"log","domain":[2e-5,0.6],"nice":false},"axis":null}}},
  {"data":{"values":[{"s":"from x-FFT"}]},"mark":{"type":"rule","color":"black","strokeWidth":2.5},
   "encoding":{"x":{"datum":4.092,"type":"quantitative","scale":{"domain":[0,5.1],"nice":false,"zero":false},"axis":null},"x2":{"datum":4.767},
    "y":{"datum":0.0762,"type":"quantitative","scale":{"type":"log","domain":[2e-5,0.6],"nice":false},"axis":null}}},
  {"data":{"values":[{"s":"v-gauge"}]},"mark":{"type":"text","align":"right","baseline":"middle"},
   "encoding":{"text":{"field":"s"},"x":{"datum":3.918,"type":"quantitative","scale":{"domain":[0,5.1],"nice":false,"zero":false},"axis":null},
    "y":{"datum":0.352,"type":"quantitative","scale":{"type":"log","domain":[2e-5,0.6],"nice":false},"axis":null}}},
  {"data":{"values":[{"s":"corrected"}]},"mark":{"type":"text","align":"right","baseline":"middle"},
   "encoding":{"text":{"field":"s"},"x":{"datum":3.918,"type":"quantitative","scale":{"domain":[0,5.1],"nice":false,"zero":false},"axis":null},
    "y":{"datum":0.1636,"type":"quantitative","scale":{"type":"log","domain":[2e-5,0.6],"nice":false},"axis":null}}},
  {"data":{"values":[{"s":"from x-FFT"}]},"mark":{"type":"text","align":"right","baseline":"middle"},
   "encoding":{"text":{"field":"s"},"x":{"datum":3.918,"type":"quantitative","scale":{"domain":[0,5.1],"nice":false,"zero":false},"axis":null},
    "y":{"datum":0.0762,"type":"quantitative","scale":{"type":"log","domain":[2e-5,0.6],"nice":false},"axis":null}}},
  {"data":{"values":[{"s":"I=10"}]},"mark":{"type":"text","align":"left","baseline":"alphabetic","fontSize":42},
   "encoding":{"text":{"field":"s"},"x":{"datum":2.84,"type":"quantitative","scale":{"domain":[0,5.1],"nice":false,"zero":false},"axis":null},
    "y":{"datum":0.00682,"type":"quantitative","scale":{"type":"log","domain":[2e-5,0.6],"nice":false},"axis":null}}},
  {"data":{"values":[{"s":"12"}]},"mark":{"type":"text","align":"left","baseline":"alphabetic","fontSize":29,"dy":-15},
   "encoding":{"text":{"field":"s"},"x":{"datum":3.526,"type":"quantitative","scale":{"domain":[0,5.1],"nice":false,"zero":false},"axis":null},
    "y":{"datum":0.00682,"type":"quantitative","scale":{"type":"log","domain":[2e-5,0.6],"nice":false},"axis":null}}},
  {"data":{"values":[{"s":"W/cm"}]},"mark":{"type":"text","align":"left","baseline":"alphabetic","fontSize":42},
   "encoding":{"text":{"field":"s"},"x":{"datum":3.844,"type":"quantitative","scale":{"domain":[0,5.1],"nice":false,"zero":false},"axis":null},
    "y":{"datum":0.00682,"type":"quantitative","scale":{"type":"log","domain":[2e-5,0.6],"nice":false},"axis":null}}},
  {"data":{"values":[{"s":"2"}]},"mark":{"type":"text","align":"left","baseline":"alphabetic","fontSize":29,"dy":-15},
   "encoding":{"text":{"field":"s"},"x":{"datum":4.74,"type":"quantitative","scale":{"domain":[0,5.1],"nice":false,"zero":false},"axis":null},
    "y":{"datum":0.00682,"type":"quantitative","scale":{"type":"log","domain":[2e-5,0.6],"nice":false},"axis":null}}}
 ]},
{"width":609,"height":133,"view":{"stroke":null},"data":{"values":[]},"mark":{"type":"text"}},
{"width":609,"height":427,
 "resolve":{"axis":{"x":"independent","y":"independent"}},
 "layer":[
  {"data":{"name":"env"},"mark":{"type":"line","color":"black","strokeWidth":1.3,"strokeDash":[5,7],"clip":true},
   "encoding":{"x":{"field":"x","type":"quantitative","scale":{"domain":[0,555],"nice":false,"zero":false},"axis":{"orient":"bottom","values":[0,100,200,300,400,500],"tickSize":-7,"labelPadding":24,"title":"time\u00a0\u00a0[fs]","titlePadding":15}},
    "y":{"field":"y","type":"quantitative","scale":{"domain":[0,2.7],"nice":false,"zero":false},"axis":{"orient":"left","values":[0,0.5,1,1.5,2,2.5],"format":"~g","tickSize":-7,"labelPadding":27,"title":"|\u03c8|\u00b2, laser field\u00a0\u00a0[arb.u.]","titlePadding":42}}}},
  {"data":{"name":"psi"},"mark":{"type":"line","color":"black","strokeWidth":5,"clip":true},
   "encoding":{"x":{"field":"x","type":"quantitative","scale":{"domain":[0,555],"nice":false,"zero":false},"axis":{"orient":"top","values":[0,100,200,300,400,500],"labels":false,"title":null,"tickSize":-7}},
    "y":{"field":"y","type":"quantitative","scale":{"domain":[0,2.7],"nice":false,"zero":false},"axis":{"orient":"right","values":[0,0.5,1,1.5,2,2.5],"labels":false,"title":null,"tickSize":-7}}}},
  {"data":{"values":[{"s":"laser envelope"}]},"mark":{"type":"rule","color":"black","strokeWidth":1.3,"strokeDash":[5,7]},
   "encoding":{"x":{"datum":445,"type":"quantitative","scale":{"domain":[0,555],"nice":false,"zero":false},"axis":null},"x2":{"datum":518.6},
    "y":{"datum":2.55,"type":"quantitative","scale":{"domain":[0,2.7],"nice":false,"zero":false},"axis":null}}},
  {"data":{"values":[{"s":"psi"}]},"mark":{"type":"rule","color":"black","strokeWidth":6},
   "encoding":{"x":{"datum":445,"type":"quantitative","scale":{"domain":[0,555],"nice":false,"zero":false},"axis":null},"x2":{"datum":518.6},
    "y":{"datum":2.35,"type":"quantitative","scale":{"domain":[0,2.7],"nice":false,"zero":false},"axis":null}}},
  {"data":{"values":[{"s":"laser envelope"}]},"mark":{"type":"text","align":"right","baseline":"middle"},
   "encoding":{"text":{"field":"s"},"x":{"datum":426,"type":"quantitative","scale":{"domain":[0,555],"nice":false,"zero":false},"axis":null},
    "y":{"datum":2.55,"type":"quantitative","scale":{"domain":[0,2.7],"nice":false,"zero":false},"axis":null}}},
  {"data":{"values":[{"s":"|\u03c8(z"}]},"mark":{"type":"text","align":"left","baseline":"alphabetic"},
   "encoding":{"text":{"field":"s"},"x":{"datum":330.6,"type":"quantitative","scale":{"domain":[0,555],"nice":false,"zero":false},"axis":null},
    "y":{"datum":2.28,"type":"quantitative","scale":{"domain":[0,2.7],"nice":false,"zero":false},"axis":null}}},
  {"data":{"values":[{"s":"M"}]},"mark":{"type":"text","align":"left","baseline":"alphabetic","fontSize":22,"dy":7},
   "encoding":{"text":{"field":"s"},"x":{"datum":379.8,"type":"quantitative","scale":{"domain":[0,555],"nice":false,"zero":false},"axis":null},
    "y":{"datum":2.28,"type":"quantitative","scale":{"domain":[0,2.7],"nice":false,"zero":false},"axis":null}}},
  {"data":{"values":[{"s":")|"}]},"mark":{"type":"text","align":"left","baseline":"alphabetic"},
   "encoding":{"text":{"field":"s"},"x":{"datum":398.9,"type":"quantitative","scale":{"domain":[0,555],"nice":false,"zero":false},"axis":null},
    "y":{"datum":2.28,"type":"quantitative","scale":{"domain":[0,2.7],"nice":false,"zero":false},"axis":null}}},
  {"data":{"values":[{"s":"2"}]},"mark":{"type":"text","align":"left","baseline":"alphabetic","fontSize":22,"dy":-14},
   "encoding":{"text":{"field":"s"},"x":{"datum":415.3,"type":"quantitative","scale":{"domain":[0,555],"nice":false,"zero":false},"axis":null},
    "y":{"datum":2.28,"type":"quantitative","scale":{"domain":[0,2.7],"nice":false,"zero":false},"axis":null}}}
 ]}
],
"spacing":0,
"bounds":"flush"
}
